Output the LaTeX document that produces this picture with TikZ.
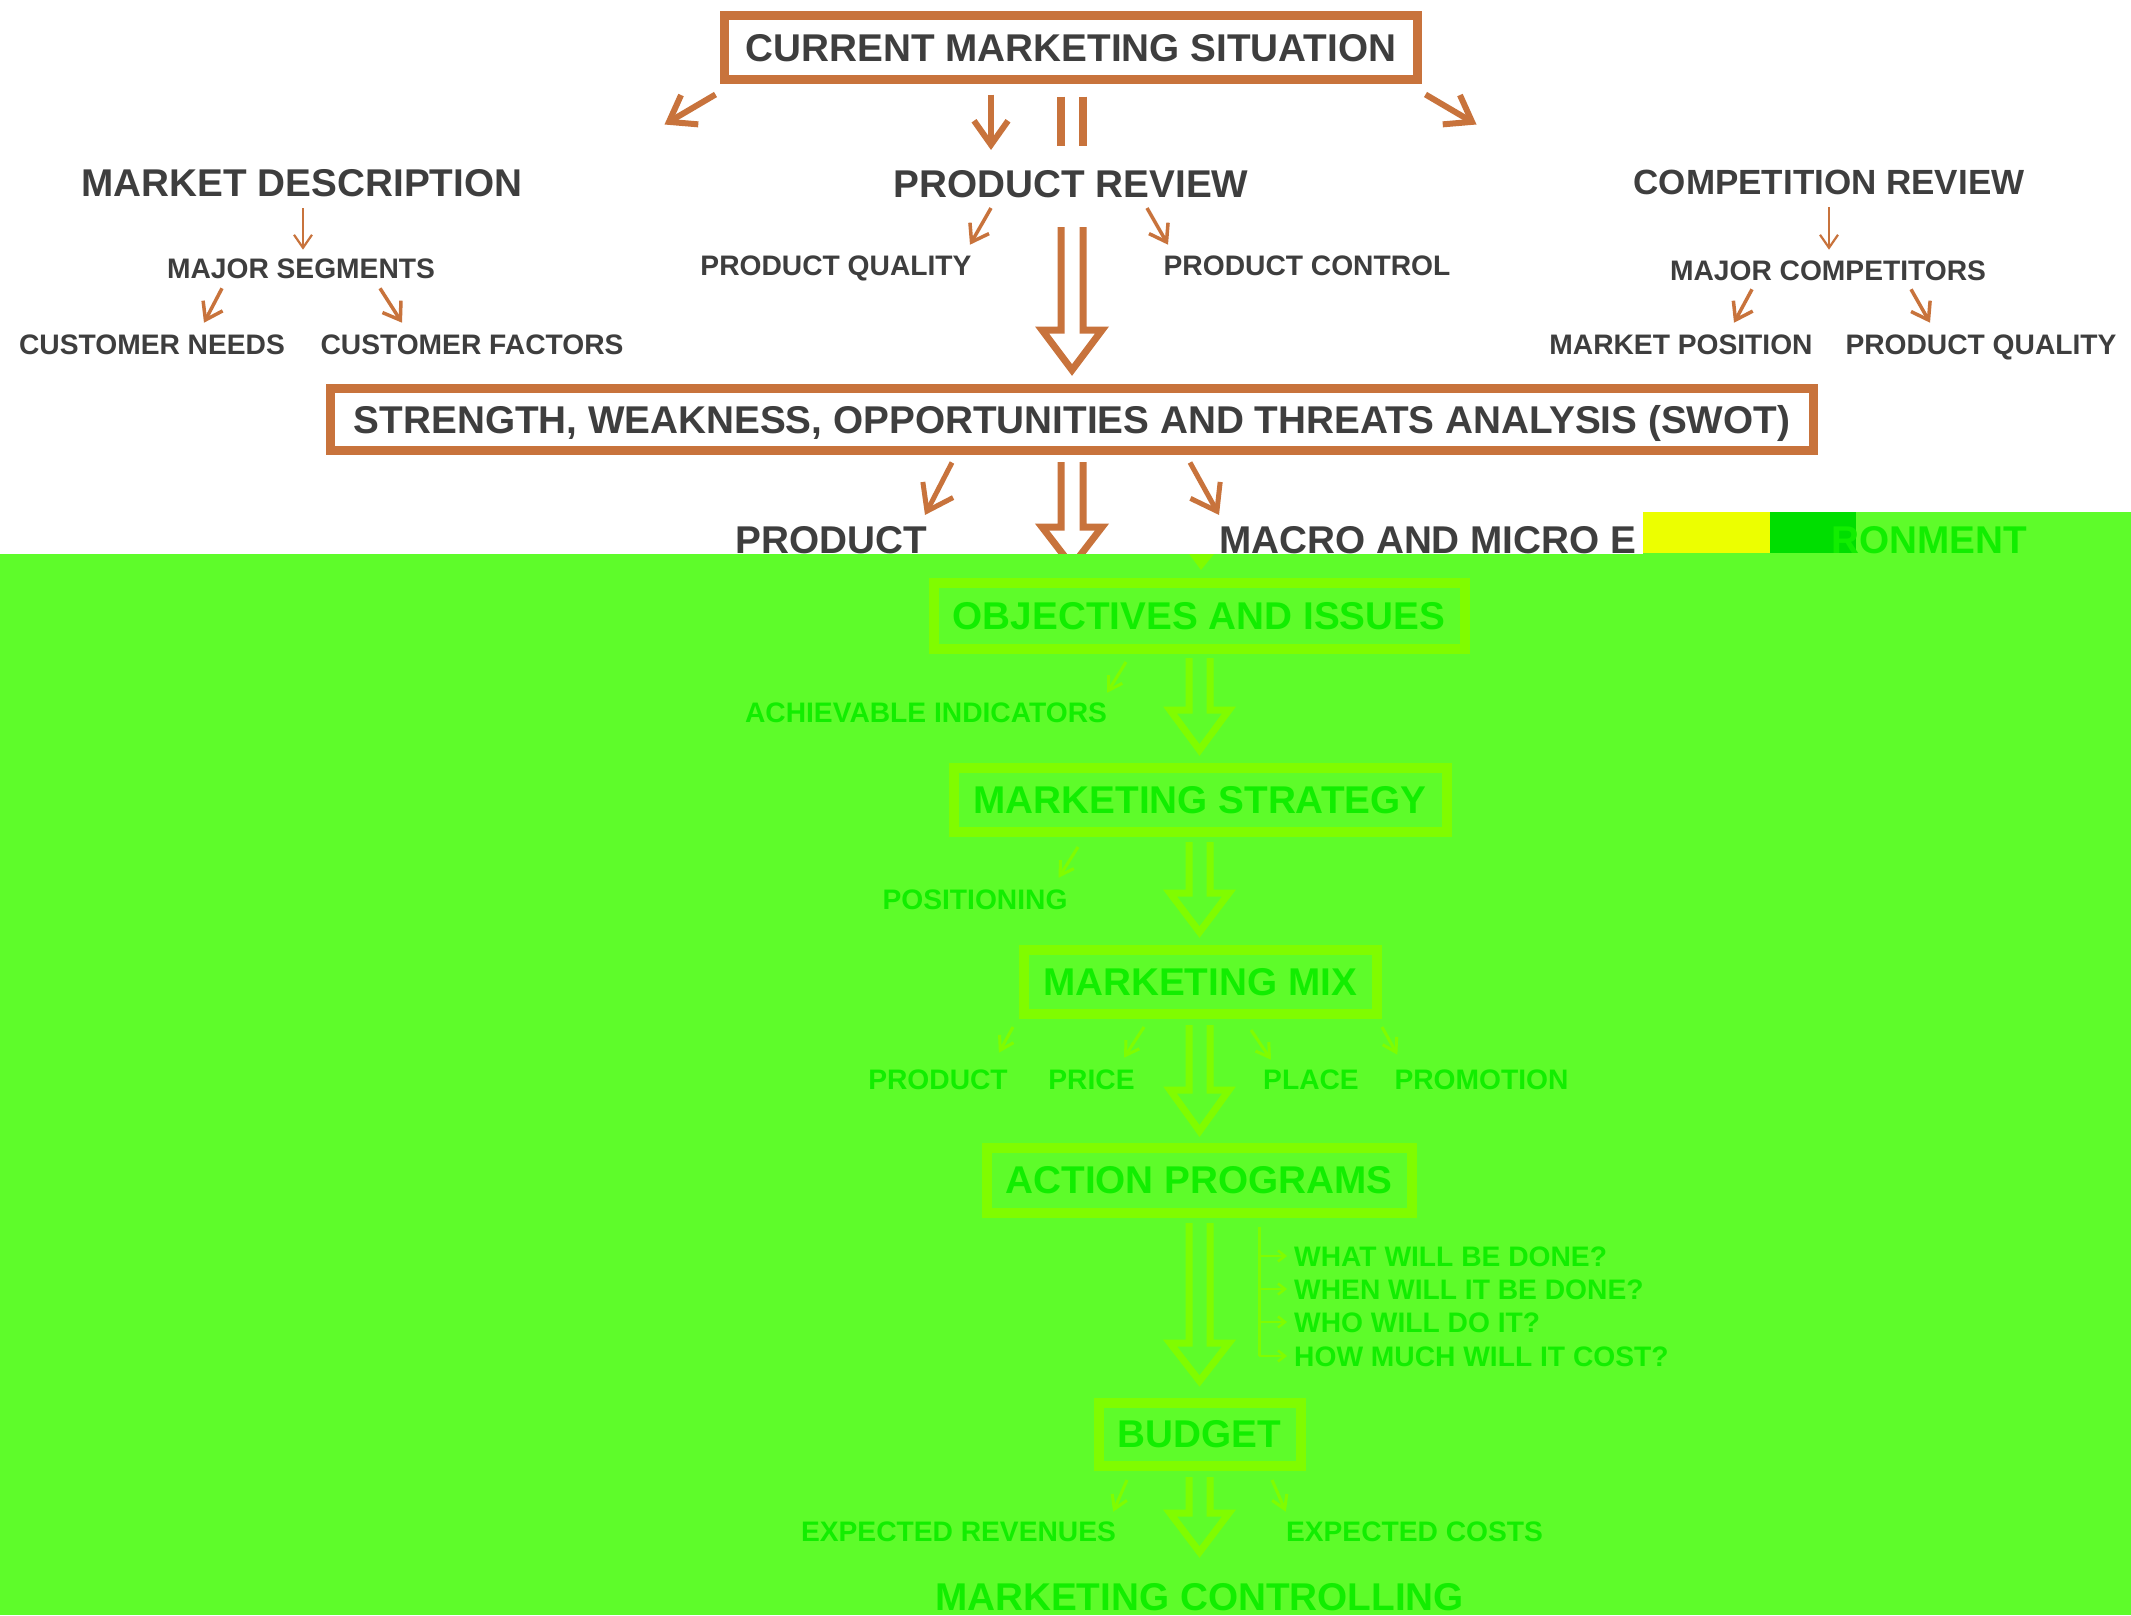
\documentclass[tikz,border=0pt]{standalone}
\usepackage{fontspec}
\setmainfont{Liberation Sans}
\usetikzlibrary{arrows.meta,calc}
\definecolor{orng}{RGB}{200,115,60}
\definecolor{txt}{RGB}{62,62,62}
\definecolor{gbg}{RGB}{94,252,42}
\definecolor{gln}{RGB}{128,252,0}
\definecolor{gtx}{RGB}{18,238,0}
\definecolor{ylw}{RGB}{236,255,0}
\definecolor{gdk}{RGB}{0,222,0}
\newcommand{\fbig}{\fontsize{38.7pt}{40pt}\selectfont\bfseries}
\newcommand{\fmid}{\fontsize{35pt}{36pt}\selectfont\bfseries}
\newcommand{\fsmall}{\fontsize{28.2pt}{30pt}\selectfont\bfseries}
\newcommand{\hollowarr}[6]{%
  \draw[#1, line width=7pt, line join=miter]
    ({#2-#6},#3) -- ({#2-#6},#4) -- ({#2-#6-19},#4) -- (#2,#5)
    -- ({#2+#6+19},#4) -- ({#2+#6},#4) -- ({#2+#6},#3);}
\begin{document}
\begin{tikzpicture}[x=1pt,y=-1pt,
  every node/.style={inner sep=0pt, text depth=0pt},
  big/.style={font=\fbig, text=txt, text height=27.7pt},
  mid/.style={font=\fmid, text=txt, text height=25.1pt},
  sml/.style={font=\fsmall, text=txt, text height=20.2pt},
  gbig/.style={big, text=gtx},
  gsml/.style={sml, text=gtx},
  obox/.style={draw=orng, line width=9pt, fill=white},
  gbox/.style={draw=gln, line width=10pt},
  bigarr/.style={draw=orng, line width=6pt, -{Straight Barb[length=24pt,width=34pt]}},
  medarr/.style={draw=orng, line width=3.5pt, -{Straight Barb[length=16pt,width=22pt]}},
  thinarr/.style={draw=orng, line width=2.2pt, -{Straight Barb[length=13pt,width=18pt]}},
  garr/.style={draw=gln, line width=3pt, -{Straight Barb[length=13pt,width=16pt]}},
  gthin/.style={draw=gln, line width=3pt},
  tinyarr/.style={draw=gln, line width=2.5pt, -{Straight Barb[length=7pt,width=11pt]}},
  bar/.style={draw=orng, line width=8pt}
]
\useasboundingbox (0,0) rectangle (2131,1615);
\fill[white] (0,0) rectangle (2131,1615);

% ---------- top (white) part ----------
\node[obox, big, minimum width=693pt, minimum height=64pt] (cms) at (1071,47.5) {CURRENT MARKETING SITUATION};

\node[big] (md) at (302,183) {MARKET DESCRIPTION};
\node[big] (pr) at (1071,184) {PRODUCT REVIEW};
\node[mid] (cr) at (1829,182) {COMPETITION REVIEW};
\node[sml] (ms) at (301,268) {MAJOR SEGMENTS};
\node[sml] (cn) at (152,344) {CUSTOMER NEEDS};
\node[sml] (cf) at (472,344) {CUSTOMER FACTORS};
\node[sml] (pq) at (836,265) {PRODUCT QUALITY};
\node[sml] (pc) at (1307,265) {PRODUCT CONTROL};
\node[sml] (mc) at (1828,270) {MAJOR COMPETITORS};
\node[sml] (mp) at (1681,344) {MARKET POSITION};
\node[sml] (pq2) at (1981,344) {PRODUCT QUALITY};

% arrows from CMS
\draw[bigarr] ($(cms.south west)+(-4.5,10.5)$) -- ($(cms.south west)+(-55.5,40.5)$);
\draw[bigarr] ($(cms.south)+(-80,10.5)$) -- ($(pr.north)+(-80,-20)$);
\draw[bigarr] ($(cms.south east)+(3.5,10.5)$) -- ($(cms.south east)+(54.5,40.5)$);
\draw[bar] ($(cms.south)+(-10,12.5)$) -- ($(cms.south)+(-10,61.5)$);
\draw[bar] ($(cms.south)+(12,12.5)$) -- ($(cms.south)+(12,61.5)$);

% second level arrows
\draw[thinarr] ($(md.south)+(1,11)$) -- ($(ms.north)+(2,-8)$);
\draw[medarr] ($(ms.south)+(-79,10)$) -- ($(cn.north)+(52,-11)$);
\draw[medarr] ($(ms.south)+(79,10)$) -- ($(cf.north)+(-70,-11)$);
\draw[medarr] ($(pr.south)+(-80,10)$) -- ($(pq.north)+(134,-10)$);
\draw[medarr] ($(pr.south)+(76,10)$) -- ($(pc.north)+(-139,-10)$);
\draw[thinarr] ($(cr.south)+(0,12.5)$) -- ($(mc.north)+(1,-10)$);
\draw[medarr] ($(mc.south)+(-76,9)$) -- ($(mp.north)+(53,-11)$);
\draw[medarr] ($(mc.south)+(83,9)$) -- ($(pq2.north)+(-51,-11)$);

\hollowarr{orng}{1072}{227}{330}{370}{11}

\node[obox, big, minimum width=1483pt, minimum height=62pt] (sw) at (1072,419.5)
  {STRENGTH, WEAKNESS, OPPORTUNITIES AND THREATS ANALYSIS (SWOT)};

\node[big] (prod) at (831,540) {PRODUCT};
\node[big, anchor=west] (mac) at (1219,540) {MACRO AND MICRO E};
\draw[bigarr, line width=5pt] ($(sw.south)+(-120,7.5)$) -- ($(prod.north)+(94,-11)$);
\draw[bigarr, line width=5pt] ($(sw.south)+(118,7.5)$) -- ($(mac.north west)+(0,-11)$);
\hollowarr{orng}{1072}{462}{527}{566}{11}

% ---------- green overlay ----------
\fill[gbg] (0,554) rectangle (2131,1615);
\fill[gbg] (1643,512) rectangle (2131,554);
\fill[ylw] (1643,512) rectangle (1770,553);
\fill[gdk] (1770,512) rectangle (1856,553);
\node[gbig, anchor=west] (ron) at (1831,540) {RONMENT};
\fill[gln] (1189,554) -- (1214,554) -- (1201,570) -- cycle;

\node[gbox, gbig, minimum width=531pt, minimum height=66pt] (obj) at (1199,615.5) {OBJECTIVES AND ISSUES};
\node[gsml] (ai) at (926,712) {ACHIEVABLE INDICATORS};
\draw[garr] ($(obj.south)+(-73,8.5)$) -- ($(ai.north east)+(0,-9)$);
\hollowarr{gln}{1199.5}{658}{710}{750}{10.5}

\node[gbox, gbig, minimum width=493pt, minimum height=64pt] (mst) at (1200,799.5) {MARKETING STRATEGY};
\node[gsml] (pos) at (975,899) {POSITIONING};
\draw[garr] ($(mst.south)+(-122,10.5)$) -- ($(pos.north east)+(-9,-11)$);
\hollowarr{gln}{1199.5}{842}{893}{932}{10.5}

\node[gbox, gbig, minimum width=353pt, minimum height=64pt] (mm) at (1200,981.5) {MARKETING MIX};
\node[gsml] (pd) at (938,1079) {PRODUCT};
\node[gsml] (pri) at (1091.5,1079) {PRICE};
\node[gsml] (pl) at (1311,1079) {PLACE};
\node[gsml] (pm) at (1481.5,1079) {PROMOTION};
\draw[garr] ($(mm.south west)+(-5.5,8.5)$) -- ($(pd.north east)+(-9,-16)$);
\draw[garr] ($(mm.south)+(-56,8.5)$) -- ($(pri.north)+(32.5,-11)$);
\draw[garr] ($(mm.south)+(51,11.5)$) -- ($(pl.north)+(-40,-9)$);
\draw[garr] ($(mm.south east)+(0.5,8.5)$) -- ($(pm.north west)+(3,-14)$);
\hollowarr{gln}{1199.5}{1025}{1090}{1131}{10.5}

\node[gbox, gbig, minimum width=425pt, minimum height=65pt] (ap) at (1199,1180) {ACTION PROGRAMS};
\node[gsml, anchor=west] (q1) at (1294,1256) {WHAT WILL BE DONE?};
\node[gsml, anchor=west] (q2) at (1294,1289) {WHEN WILL IT BE DONE?};
\node[gsml, anchor=west] (q3) at (1294,1322) {WHO WILL DO IT?};
\node[gsml, anchor=west] (q4) at (1294,1356) {HOW MUCH WILL IT COST?};
\draw[gthin] ($(ap.south)+(60,9.5)$) -- ($(q4.west)+(-35,0)$);
\foreach \q in {q1,q2,q3,q4}
  \draw[tinyarr] ($(\q.west)+(-35,0)$) -- ($(\q.west)+(-7,0)$);
\hollowarr{gln}{1199.5}{1223}{1343}{1381}{10.5}

\node[gbox, gbig, minimum width=202pt, minimum height=63pt] (bud) at (1199.5,1434) {BUDGET};
\node[gsml] (er) at (958.5,1531) {EXPECTED REVENUES};
\node[gsml] (ec) at (1414.5,1531) {EXPECTED COSTS};
\draw[garr] ($(bud.south west)+(33.5,9.5)$) -- ($(er.north east)+(-3,-9)$);
\draw[garr] ($(bud.south east)+(-33.5,9.5)$) -- ($(ec.north west)+(0,-9)$);
\hollowarr{gln}{1199.5}{1477}{1513}{1552}{10.5}

\node[gbig] (mcl) at (1199.5,1597) {MARKETING CONTROLLING};
\end{tikzpicture}
\end{document}
